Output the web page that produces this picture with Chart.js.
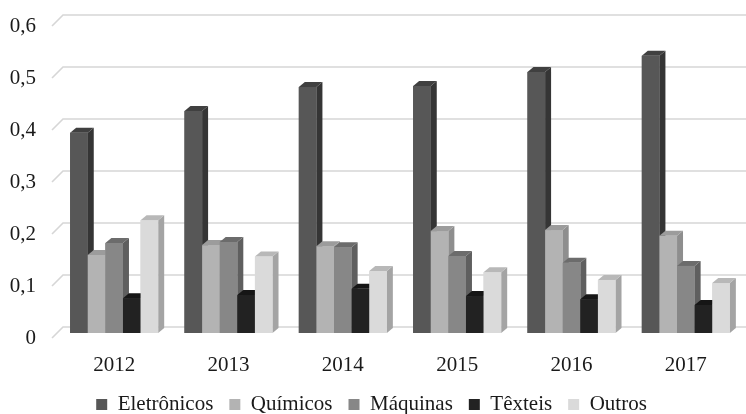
<!DOCTYPE html>
<html lang="pt">
<head>
  <meta charset="UTF-8">
  <title>Exportações por setor</title>
  <script src="https://cdn.jsdelivr.net/npm/chart.js"></script>
  <style>
    html, body { margin: 0; padding: 0; background: #fff; }
    #wrap { width: 746px; height: 414px; }
  </style>
</head>
<body>
  <div id="wrap"><canvas id="chart" width="746" height="414"></canvas></div>

  <script>
    const years = ['2012', '2013', '2014', '2015', '2016', '2017'];
    const seriesNames = ['Eletrônicos', 'Químicos', 'Máquinas', 'Têxteis', 'Outros'];

    const eletronicos = [0.385, 0.427, 0.473, 0.475, 0.502, 0.533];
    const quimicos    = [0.150, 0.169, 0.167, 0.196, 0.198, 0.187];
    const maquinas    = [0.173, 0.175, 0.165, 0.148, 0.135, 0.129];
    const texteis     = [0.067, 0.073, 0.085, 0.071, 0.065, 0.054];
    const outros      = [0.217, 0.147, 0.119, 0.117, 0.102, 0.096];

    const yTicks = [0, 0.1, 0.2, 0.3, 0.4, 0.5, 0.6];

    // front / side / top shades of each series
    const frontColors = ['#575757', '#b3b3b3', '#878787', '#222222', '#dadada'];
    const sideColors  = ['#353535', '#8e8e8e', '#5f5f5f', '#0f0f0f', '#a4a4a4'];
    const topColors   = ['#404040', '#9c9c9c', '#6c6c6c', '#161616', '#b8b8b8'];

    const DEPTH_X = 6, DEPTH_Y = 5;     // bar depth
    const WALL_X = 11, WALL_Y = 11;     // floor depth for the back grid
    const FONT = '"Liberation Serif", "Times New Roman", serif';

    const allSeries = [eletronicos, quimicos, maquinas, texteis, outros];

    // back wall gridlines with the diagonal floor edge
    const backGrid = {
      id: 'backGrid',
      beforeDatasetsDraw(chart) {
        const { ctx, chartArea, scales } = chart;
        const y = scales.y;
        ctx.save();
        ctx.strokeStyle = '#d6d6d6';
        ctx.lineWidth = 1.6;
        y.ticks.forEach(t => {
          const py = y.getPixelForValue(t.value);
          const x0 = chartArea.left - 5, y0 = py + 5;
          ctx.beginPath();
          ctx.moveTo(x0, y0);
          ctx.lineTo(x0 + WALL_X, y0 - WALL_Y);
          ctx.lineTo(chartArea.right + 3, y0 - WALL_Y);
          ctx.stroke();
        });
        ctx.restore();
      }
    };

    // redraw every bar as a small prism, left to right, so each front face hides the side before it
    const prisms = {
      id: 'prisms',
      afterDatasetsDraw(chart) {
        const { ctx } = chart;
        const metas = allSeries.map((_, i) => chart.getDatasetMeta(i));
        ctx.save();
        years.forEach((_, j) => {
          metas.forEach((meta, i) => {
            const bar = meta.data[j];
            if (!bar) return;
            const { x, y, base, width } = bar.getProps(['x', 'y', 'base', 'width'], true);
            const l = x - width / 2, r = x + width / 2;
            // side
            ctx.fillStyle = sideColors[i];
            ctx.beginPath();
            ctx.moveTo(r, y);
            ctx.lineTo(r + DEPTH_X, y - DEPTH_Y);
            ctx.lineTo(r + DEPTH_X, base - DEPTH_Y);
            ctx.lineTo(r, base);
            ctx.closePath();
            ctx.fill();
            // top
            ctx.fillStyle = topColors[i];
            ctx.beginPath();
            ctx.moveTo(l, y);
            ctx.lineTo(r, y);
            ctx.lineTo(r + DEPTH_X, y - DEPTH_Y);
            ctx.lineTo(l + DEPTH_X, y - DEPTH_Y);
            ctx.closePath();
            ctx.fill();
            // front
            ctx.fillStyle = frontColors[i];
            ctx.fillRect(l, y, width, base - y);
          });
        });
        ctx.restore();
      }
    };

    new Chart(document.getElementById('chart'), {
      type: 'bar',
      data: {
        labels: years,
        datasets: seriesNames.map((name, i) => ({
          label: name,
          data: allSeries[i],
          backgroundColor: frontColors[i],
          borderWidth: 0,
          barPercentage: 1.0,
          categoryPercentage: 0.77
        }))
      },
      options: {
        responsive: false,
        animation: false,
        layout: { padding: { top: 21, right: 3, left: 0, bottom: 0 } },
        scales: {
          x: {
            afterFit(scale) { scale.height = 45; scale.paddingLeft = 0; scale.paddingRight = 0; },
            grid: { display: false, drawTicks: false },
            border: { display: false },
            ticks: { color: '#1a1a1a', font: { family: FONT, size: 21 }, padding: 20 }
          },
          y: {
            min: 0,
            max: 0.6,
            afterFit(scale) { scale.width = 57; scale.paddingTop = 0; scale.paddingBottom = 0; },
            afterBuildTicks(scale) { scale.ticks = yTicks.map(v => ({ value: v })); },
            grid: { display: false, drawTicks: false },
            border: { display: false },
            ticks: {
              color: '#1a1a1a',
              font: { family: FONT, size: 21 },
              padding: 21,
              labelOffset: 5,
              callback: v => v === 0 ? '0' : v.toFixed(1).replace('.', ',')
            }
          }
        },
        plugins: {
          legend: {
            position: 'bottom',
            maxHeight: 36,
            labels: {
              color: '#1a1a1a',
              font: { family: FONT, size: 21 },
              boxWidth: 11,
              boxHeight: 11,
              padding: 16
            }
          },
          tooltip: { enabled: false }
        }
      },
      plugins: [backGrid, prisms]
    });
  </script>
</body>
</html>
